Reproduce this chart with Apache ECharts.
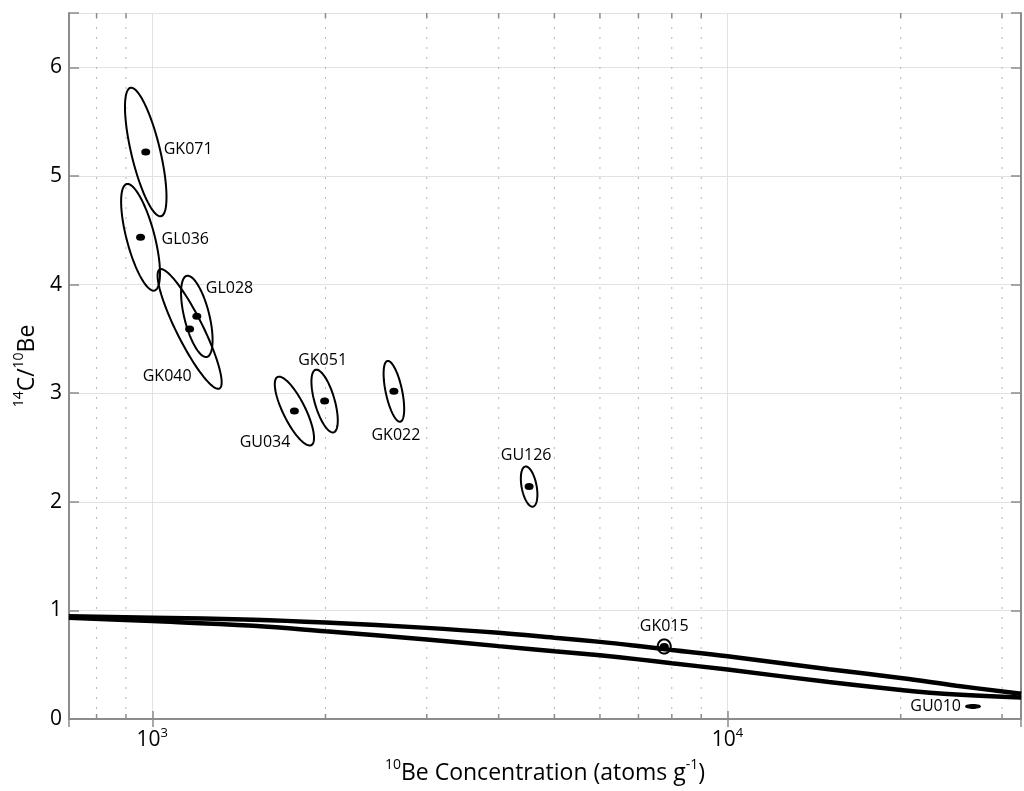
<!DOCTYPE html>
<html>
<head>
<meta charset="utf-8">
<script src="https://cdn.jsdelivr.net/npm/echarts@6/dist/echarts.min.js"></script>
<style>html,body{margin:0;padding:0;background:#fff}#c{width:1024px;height:791px}</style>
</head>
<body>
<div id="c"></div>
<script>
// ---- data ----
const samples   = ['GK071', 'GL036', 'GL028', 'GK040', 'GK051', 'GU034', 'GK022', 'GU126', 'GK015', 'GU010'];
const be10      = [974, 954, 1195, 1161, 1993, 1766, 2630, 4519, 7761, 26710];
const ratio     = [5.22, 4.435, 3.707, 3.591, 2.927, 2.835, 3.017, 2.14, 0.668, 0.116];
const logErr    = [0.0361, 0.0338, 0.0274, 0.0557, 0.0229, 0.0341, 0.0179, 0.0144, 0.0113, 0.0120];
const ratioErr  = [0.592, 0.491, 0.374, 0.551, 0.289, 0.317, 0.280, 0.185, 0.065, 0.012];
const corr      = [-0.70, -0.67, -0.58, -0.89, -0.62, -0.78, -0.58, -0.40, 0, 0];

const curveBe    = [716, 1000, 1500, 2000, 3000, 4000, 5000, 6000, 7000, 8000, 10000, 15000, 20000, 25000, 32400];
const curveUpper = [0.945, 0.933, 0.914, 0.888, 0.839, 0.793, 0.748, 0.710, 0.672, 0.636, 0.578, 0.458, 0.378, 0.307, 0.232];
const curveLower = [0.932, 0.902, 0.858, 0.808, 0.733, 0.671, 0.624, 0.586, 0.549, 0.513, 0.455, 0.340, 0.268, 0.226, 0.198];

const minorTicks = [800, 900, 2000, 3000, 4000, 5000, 6000, 7000, 8000, 9000, 20000, 30000];
const yTicks = [0, 1, 2, 3, 4, 5, 6];

// ---- layout / style ----
const X_MIN = 716.4, X_MAX = 32370, Y_MIN = 0, Y_MAX = 6.5;
const AXIS_COLOR = '#8c8c8c';
const FONT = 'Open Sans';
const labelLayout = {
  GK071: ['left', 18, -3],
  GL036: ['left', 21, 2],
  GL028: ['left', 9, -28],
  GK040: ['right', 2, 47],
  GK051: ['center', -2, -41],
  GU034: ['right', -4, 31],
  GK022: ['center', 2, 44],
  GU126: ['center', -3, -31],
  GK015: ['center', 0, -20],
  GU010: ['right', -12, 0]
};
const dotSize = {GU010: [8, 5]};

const chart = echarts.init(document.getElementById('c'), null, {renderer: 'canvas'});

function renderMinor(params, api) {
  const v = api.value(0);
  const b = api.coord([v, Y_MIN]);
  const t = api.coord([v, Y_MAX]);
  return {type: 'group', children: [
    {type: 'line', shape: {x1: b[0], y1: b[1], x2: t[0], y2: t[1]}, style: {stroke: '#b5b5b5', lineWidth: 1, lineDash: [2, 8]}},
    {type: 'line', shape: {x1: b[0], y1: b[1], x2: b[0], y2: b[1] - 5}, style: {stroke: AXIS_COLOR, lineWidth: 1.5}},
    {type: 'line', shape: {x1: t[0], y1: t[1], x2: t[0], y2: t[1] + 5}, style: {stroke: AXIS_COLOR, lineWidth: 1.5}}
  ]};
}

function renderEllipse(params, api) {
  const cx = api.value(0), cy = api.value(1), sx = api.value(2), sy = api.value(3), rho = api.value(4);
  const pts = [];
  const n = 90;
  const k = Math.sqrt(1 - rho * rho);
  for (let i = 0; i <= n; i++) {
    const t = 2 * Math.PI * i / n;
    const u = sx * Math.cos(t);
    const v = sy * (rho * Math.cos(t) + k * Math.sin(t));
    pts.push(api.coord([cx * Math.pow(10, u), cy + v]));
  }
  return {type: 'polygon', shape: {points: pts}, style: {fill: null, stroke: '#000', lineWidth: 2}};
}

function xLabel(v) {
  const l = Math.log10(v);
  const e = Math.round(l);
  if (Math.abs(l - e) > 1e-6) return '';
  return '{b|10}{s|' + e + '}';
}

const titleRich = {
  n: {fontSize: 23, fontFamily: FONT, color: '#000', lineHeight: 30},
  s: {fontSize: 14, fontFamily: FONT, color: '#000', verticalAlign: 'top', lineHeight: 30}
};

const option = {
  animation: false,
  backgroundColor: '#fff',
  grid: {left: 69, top: 13, width: 956, height: 706, containLabel: false},
  xAxis: [
    {
      type: 'log', logBase: 10, min: X_MIN, max: X_MAX, position: 'bottom',
      axisLine: {show: true, lineStyle: {color: AXIS_COLOR, width: 2}},
      axisTick: {show: true, inside: true, length: 8, lineStyle: {color: AXIS_COLOR, width: 1.5}},
      splitLine: {show: true, lineStyle: {color: '#e2e2e2', width: 1}},
      minorTick: {show: false}, minorSplitLine: {show: false},
      axisLabel: {
        formatter: xLabel, margin: 8, color: '#000',
        rich: {
          b: {fontSize: 21, fontFamily: FONT, color: '#000', lineHeight: 26},
          s: {fontSize: 13, fontFamily: FONT, color: '#000', verticalAlign: 'top', lineHeight: 26}
        }
      },
      name: '{s|10}{n|Be Concentration (atoms g}{s|-1}{n|)}',
      nameLocation: 'middle', nameGap: 39,
      nameTextStyle: {rich: titleRich}
    },
    {
      type: 'log', logBase: 10, min: X_MIN, max: X_MAX, position: 'top',
      axisLine: {show: true, lineStyle: {color: AXIS_COLOR, width: 2}},
      axisTick: {show: true, inside: true, length: 8, lineStyle: {color: AXIS_COLOR, width: 1.5}},
      splitLine: {show: false}, axisLabel: {show: false}
    }
  ],
  yAxis: [
    {
      type: 'value', min: Y_MIN, max: Y_MAX, interval: 1, position: 'left',
      axisLine: {show: true, lineStyle: {color: AXIS_COLOR, width: 2}},
      axisTick: {show: true, inside: true, length: 10, lineStyle: {color: AXIS_COLOR, width: 1.5}},
      splitLine: {show: true, lineStyle: {color: '#e2e2e2', width: 1}},
      axisLabel: {
        margin: 7, fontSize: 21, fontFamily: FONT, color: '#000',
        formatter: v => (yTicks.indexOf(v) >= 0 ? String(v) : '')
      },
      name: '{s|14}{n|C/}{s|10}{n|Be}',
      nameLocation: 'middle', nameGap: 27, nameRotate: 90,
      nameTextStyle: {rich: titleRich}
    },
    {
      type: 'value', min: Y_MIN, max: Y_MAX, interval: 1, position: 'right',
      axisLine: {show: true, lineStyle: {color: AXIS_COLOR, width: 2}},
      axisTick: {show: true, inside: true, length: 10, lineStyle: {color: AXIS_COLOR, width: 1.5}},
      splitLine: {show: false}, axisLabel: {show: false}
    }
  ],
  series: [
    {
      type: 'custom', name: 'minor', renderItem: renderMinor, silent: true, z: 1,
      xAxisIndex: 0, yAxisIndex: 0,
      data: minorTicks.map(v => [v, 0]), encode: {x: 0, y: 1}
    },
    {
      type: 'line', name: 'upper', xAxisIndex: 0, yAxisIndex: 0, showSymbol: false,
      smooth: 0.4,
      lineStyle: {color: '#000', width: 4.5}, z: 3,
      data: curveBe.map((x, i) => [x, curveUpper[i]])
    },
    {
      type: 'line', name: 'lower', xAxisIndex: 0, yAxisIndex: 0, showSymbol: false,
      smooth: 0.4,
      lineStyle: {color: '#000', width: 4.5}, z: 3,
      data: curveBe.map((x, i) => [x, curveLower[i]])
    },
    {
      type: 'custom', name: 'ellipses', renderItem: renderEllipse, z: 4,
      xAxisIndex: 0, yAxisIndex: 0,
      data: samples.map((s, i) => [be10[i], ratio[i], logErr[i], ratioErr[i], corr[i]]),
      encode: {x: 0, y: 1}
    },
    {
      type: 'scatter', name: 'samples', xAxisIndex: 0, yAxisIndex: 0, z: 5,
      symbol: 'circle', symbolSize: [9, 7], itemStyle: {color: '#000', opacity: 1},
      data: samples.map((s, i) => {
        const L = labelLayout[s];
        const item = {
          name: s, value: [be10[i], ratio[i]],
          label: {
            show: true, formatter: '{b}', position: 'inside', align: L[0], verticalAlign: 'middle',
            offset: [L[1], L[2]], fontSize: 16, fontFamily: FONT, color: '#000'
          }
        };
        if (dotSize[s]) item.symbolSize = dotSize[s];
        return item;
      })
    }
  ]
};
chart.setOption(option);
</script>
</body>
</html>
